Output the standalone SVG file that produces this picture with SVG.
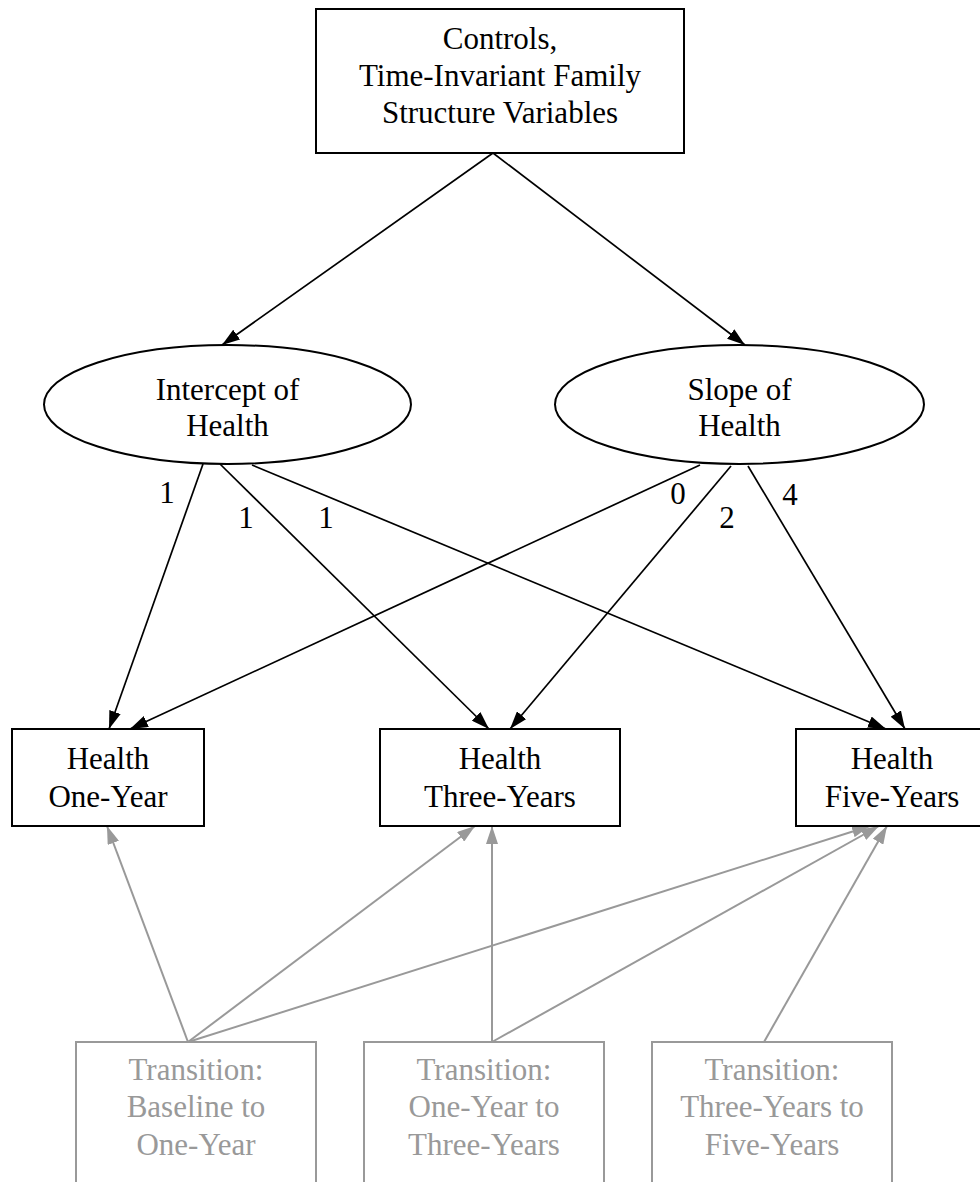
<svg xmlns="http://www.w3.org/2000/svg" width="980" height="1182" viewBox="0 0 980 1182">
<style>
text{font-family:"Liberation Serif","Times New Roman",serif;font-size:31px;text-anchor:middle}
.n{fill:#fff;stroke:#000;stroke-width:2}
.g{fill:#fff;stroke:#999;stroke-width:2}
.gt{fill:#999}
.e{stroke:#000;stroke-width:1.7;fill:none;marker-end:url(#ab)}
.eg{stroke:#999;stroke-width:2;fill:none;marker-end:url(#ag)}
</style>
<defs>
<marker id="ab" markerUnits="userSpaceOnUse" markerWidth="18" markerHeight="12" refX="18" refY="6" orient="auto"><path d="M0,0L18,6L0,12z" fill="#000"/></marker>
<marker id="ag" markerUnits="userSpaceOnUse" markerWidth="18" markerHeight="12" refX="18" refY="6" orient="auto"><path d="M0,0L18,6L0,12z" fill="#999"/></marker>
</defs>
<rect width="980" height="1182" fill="#fff"/>
<g id="edges">
<line class="e" x1="493" y1="153" x2="222" y2="345"/>
<line class="e" x1="493" y1="153" x2="745" y2="345"/>
<line class="e" x1="203" y1="464" x2="109" y2="729"/>
<line class="e" x1="220" y1="464" x2="489" y2="729"/>
<line class="e" x1="252" y1="465" x2="886" y2="729"/>
<line class="e" x1="700" y1="465" x2="130" y2="729"/>
<line class="e" x1="731" y1="466" x2="510" y2="729"/>
<line class="e" x1="748" y1="466" x2="905" y2="729"/>
<line class="eg" x1="188" y1="1042" x2="107" y2="826"/>
<line class="eg" x1="188" y1="1042" x2="475" y2="826"/>
<line class="eg" x1="188" y1="1042" x2="870" y2="826"/>
<line class="eg" x1="492" y1="1042" x2="492" y2="826"/>
<line class="eg" x1="492" y1="1042" x2="879" y2="826"/>
<line class="eg" x1="764" y1="1042" x2="887" y2="826"/>
<text x="167" y="503">1</text>
<text x="246" y="528">1</text>
<text x="326" y="528">1</text>
<text x="678" y="504">0</text>
<text x="727" y="528">2</text>
<text x="790" y="505">4</text>
</g>
<g id="controls">
<rect class="n" x="316" y="9" width="368" height="144"/>
<text x="500" y="49">Controls,</text>
<text x="500" y="86">Time-Invariant Family</text>
<text x="500" y="123">Structure Variables</text>
</g>
<g id="intercept">
<ellipse class="n" cx="227.5" cy="404.5" rx="183.5" ry="59.5"/>
<text x="227.5" y="400">Intercept of</text>
<text x="227.5" y="436">Health</text>
</g>
<g id="slope">
<ellipse class="n" cx="739.5" cy="404.5" rx="184.5" ry="59.5"/>
<text x="739.5" y="400">Slope of</text>
<text x="739.5" y="436">Health</text>
</g>
<g id="h1">
<rect class="n" x="12" y="729" width="192" height="97"/>
<text x="108" y="769">Health</text>
<text x="108" y="807">One-Year</text>
</g>
<g id="h3">
<rect class="n" x="380" y="729" width="240" height="97"/>
<text x="500" y="769">Health</text>
<text x="500" y="807">Three-Years</text>
</g>
<g id="h5">
<rect class="n" x="796" y="729" width="192" height="97"/>
<text x="892" y="769">Health</text>
<text x="892" y="807">Five-Years</text>
</g>
<g id="t1">
<rect class="g" x="76" y="1042" width="240" height="160"/>
<text class="gt" x="196" y="1080">Transition:</text>
<text class="gt" x="196" y="1117">Baseline to</text>
<text class="gt" x="196" y="1155">One-Year</text>
</g>
<g id="t2">
<rect class="g" x="364" y="1042" width="240" height="160"/>
<text class="gt" x="484" y="1080">Transition:</text>
<text class="gt" x="484" y="1117">One-Year to</text>
<text class="gt" x="484" y="1155">Three-Years</text>
</g>
<g id="t3">
<rect class="g" x="652" y="1042" width="240" height="160"/>
<text class="gt" x="772" y="1080">Transition:</text>
<text class="gt" x="772" y="1117">Three-Years to</text>
<text class="gt" x="772" y="1155">Five-Years</text>
</g>
</svg>
